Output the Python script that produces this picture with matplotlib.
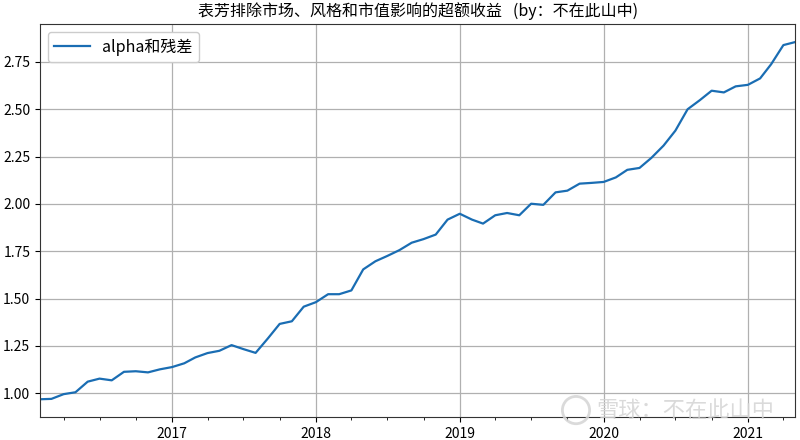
import matplotlib
matplotlib.use("Agg")
import matplotlib.pyplot as plt
import matplotlib.dates as mdates
from matplotlib.patches import Ellipse
from matplotlib.ticker import FormatStrFormatter, MultipleLocator
import pandas as pd

plt.rcParams['font.family'] = ['Noto Sans CJK SC', 'DejaVu Sans']
plt.rcParams['axes.unicode_minus'] = False

title = "表芳排除市场、风格和市值影响的超额收益   (by：不在此山中)"
series_name = "alpha和残差"
watermark = "雪球：不在此山中"
start_month = "2016-02-01"
values = [
    0.968, 0.970, 0.995, 1.005, 1.061, 1.077, 1.068, 1.113, 1.116, 1.110, 1.126,
    1.138, 1.158, 1.189, 1.212, 1.224, 1.254, 1.233, 1.213, 1.289, 1.366, 1.380, 1.457,
    1.481, 1.523, 1.523, 1.543, 1.654, 1.697, 1.725, 1.756, 1.795, 1.814, 1.838, 1.917,
    1.948, 1.917, 1.896, 1.940, 1.952, 1.940, 2.001, 1.995, 2.061, 2.070, 2.107, 2.111,
    2.116, 2.140, 2.180, 2.190, 2.243, 2.308, 2.387, 2.500, 2.548, 2.598, 2.589, 2.621,
    2.629, 2.663, 2.738, 2.839, 2.855,
]
dates = pd.date_range(start_month, periods=len(values), freq="MS")

fig = plt.figure(figsize=(8, 4.4), dpi=100)
ax = fig.add_axes([0.05, 0.052, 0.944, 0.893])
ax.plot(dates, values, color="#1a6db3", lw=1.6, label=series_name)

ax.set_xlim(dates[0], dates[-1])
ax.margins(y=0.05)
ax.xaxis.set_major_locator(mdates.YearLocator())
ax.xaxis.set_major_formatter(mdates.DateFormatter("%Y"))
ax.xaxis.set_minor_locator(mdates.MonthLocator(bymonth=[1, 4, 7, 10]))
ax.yaxis.set_major_locator(MultipleLocator(0.25))
ax.yaxis.set_major_formatter(FormatStrFormatter("%.2f"))
ax.tick_params(labelsize=10)
ax.grid(True, which="major", color="#b0b0b0", lw=0.9)
for s in ax.spines.values():
    s.set_color("#333333")

ax.set_title(title, fontsize=11.5, pad=6)
ax.legend(loc="upper left", fontsize=11.5, framealpha=1.0, edgecolor="#cccccc",
          handlelength=2.2)

fig.text(0.745, 0.068, watermark, fontsize=16, color="#d4d4d4",
         alpha=0.85, ha="left", va="center", zorder=10)
fig.patches.append(Ellipse((0.72, 0.068), 0.034, 0.062,
                   transform=fig.transFigure, fill=False, ec="#d4d4d4", lw=2,
                   alpha=0.85, zorder=10))

fig.savefig("out.png", dpi=100)
